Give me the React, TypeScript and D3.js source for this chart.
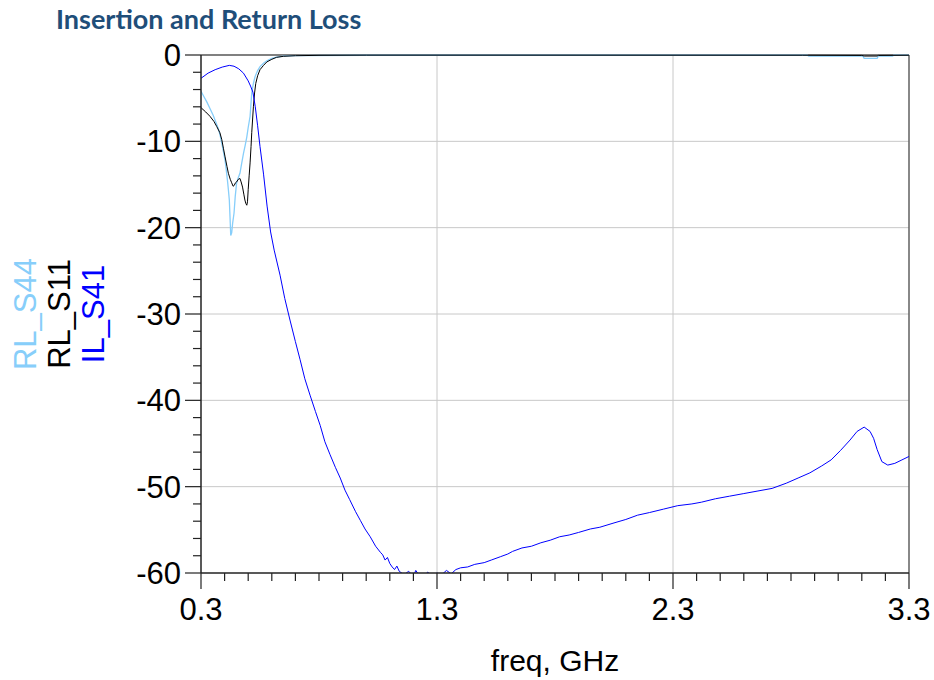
import React from "react";
import * as d3 from "d3";

const TITLE = "Insertion and Return Loss";
const X_LABEL = "freq, GHz";
const X_TICKS = [0.3, 1.3, 2.3, 3.3];
const Y_TICKS = [0, -10, -20, -30, -40, -50, -60];

const IL_S41: [number, number][] = [
  [0.3, -2.7], [0.33, -2.1], [0.36, -1.7], [0.39, -1.4], [0.42, -1.2], [0.44, -1.3],
  [0.46, -1.6], [0.48, -2.1], [0.5, -3.0], [0.51, -3.6], [0.52, -4.3], [0.53, -6.0],
  [0.54, -8.2], [0.55, -10.6], [0.565, -13.8], [0.58, -17.5], [0.595, -20.5],
  [0.61, -22.6], [0.635, -25.5], [0.655, -28.2], [0.677, -30.7], [0.7, -33.2],
  [0.72, -35.3], [0.74, -37.5], [0.762, -39.4], [0.785, -41.3], [0.805, -42.9],
  [0.825, -44.8], [0.847, -46.3], [0.87, -47.8], [0.89, -49.0], [0.91, -50.4],
  [0.93, -51.5], [0.955, -52.9], [0.975, -53.9], [0.995, -54.9], [1.017, -55.8],
  [1.04, -56.9], [1.06, -57.6], [1.07, -57.9], [1.08, -58.5], [1.09, -58.2], [1.1, -58.9],
  [1.11, -59.3], [1.12, -59.6], [1.13, -59.2], [1.14, -59.8], [1.16, -60.2], [1.18, -59.8],
  [1.2, -60.4], [1.21, -59.7], [1.22, -60.1], [1.24, -60.6], [1.26, -59.9], [1.28, -60.3],
  [1.3, -60.0], [1.32, -60.2], [1.34, -59.7], [1.36, -60.1], [1.38, -59.6],
  [1.4, -59.4], [1.43, -59.3], [1.46, -59.0], [1.5, -58.8], [1.53, -58.5],
  [1.57, -58.1], [1.6, -57.8], [1.62, -57.5], [1.66, -57.1], [1.7, -56.9],
  [1.74, -56.5], [1.78, -56.2], [1.82, -55.8], [1.86, -55.6], [1.9, -55.3],
  [1.95, -54.9], [1.99, -54.7], [2.05, -54.2], [2.1, -53.8], [2.15, -53.3],
  [2.2, -53.0], [2.26, -52.6], [2.32, -52.2], [2.38, -52.0], [2.42, -51.8],
  [2.48, -51.4], [2.54, -51.1], [2.6, -50.8], [2.66, -50.5], [2.72, -50.2],
  [2.78, -49.6], [2.83, -49.0], [2.88, -48.4], [2.93, -47.6], [2.97, -46.9],
  [3.01, -45.8], [3.05, -44.6], [3.08, -43.6], [3.11, -43.1], [3.135, -43.6],
  [3.15, -44.4], [3.165, -45.7], [3.185, -47.1], [3.21, -47.5], [3.24, -47.3],
  [3.27, -46.9], [3.3, -46.5],
];

const RL_S11: [number, number][] = [
  [0.3, -6.1], [0.32, -6.6], [0.338, -7.1], [0.355, -7.7], [0.367, -8.3], [0.38, -9.0],
  [0.388, -9.8], [0.395, -10.8], [0.402, -11.8], [0.41, -12.9], [0.416, -13.7],
  [0.424, -14.4], [0.43, -14.8], [0.436, -15.2], [0.441, -15.1], [0.446, -14.8],
  [0.451, -14.7], [0.458, -14.4], [0.465, -14.3], [0.47, -14.7], [0.476, -15.3],
  [0.482, -16.2], [0.486, -16.8], [0.49, -17.2], [0.494, -17.4], [0.497, -17.0],
  [0.5, -15.6], [0.504, -14.0], [0.508, -12.5], [0.512, -10.6], [0.515, -9.0],
  [0.522, -6.0], [0.527, -4.4], [0.532, -3.3], [0.54, -2.4], [0.55, -1.7],
  [0.565, -1.2], [0.579, -0.8], [0.6, -0.5], [0.62, -0.27], [0.65, -0.15],
  [0.7, -0.08], [0.8, -0.04], [1.0, -0.02], [2.85, -0.03], [3.1, -0.05],
  [3.11, -0.12], [3.165, -0.12], [3.17, -0.05], [3.3, -0.03],
];

const RL_S44: [number, number][] = [
  [0.3, -4.2], [0.312, -4.8], [0.324, -5.4], [0.338, -6.2], [0.352, -7.0],
  [0.363, -7.8], [0.373, -8.5], [0.381, -9.3], [0.388, -10.2], [0.395, -11.2],
  [0.402, -12.2], [0.407, -13.3], [0.412, -14.5], [0.416, -15.6], [0.42, -16.8],
  [0.423, -18.8], [0.426, -20.9], [0.43, -20.6], [0.434, -19.5], [0.44, -18.3],
  [0.445, -16.4], [0.451, -14.8], [0.458, -14.2], [0.465, -13.7], [0.472, -12.6],
  [0.48, -11.4], [0.487, -10.5], [0.494, -9.5], [0.5, -8.4], [0.508, -7.1],
  [0.515, -4.4], [0.522, -3.3], [0.529, -2.5], [0.54, -1.8], [0.55, -1.35],
  [0.565, -0.95], [0.579, -0.66], [0.6, -0.4], [0.62, -0.25], [0.65, -0.14],
  [0.7, -0.07], [1.0, -0.03], [2.87, -0.03], [2.875, -0.14], [3.105, -0.14],
  [3.11, -0.38], [3.165, -0.38], [3.17, -0.14], [3.23, -0.14], [3.235, -0.02],
  [3.3, -0.02],
];

const SERIES = [
  { name: "RL_S44", data: RL_S44, color: "#87CEFA", width: 1.3 },
  { name: "RL_S11", data: RL_S11, color: "#000000", width: 1 },
  { name: "IL_S41", data: IL_S41, color: "#0000FF", width: 1 },
];

const LEGEND = [
  { name: "RL_S44", color: "#87CEFA" },
  { name: "RL_S11", color: "#000000" },
  { name: "IL_S41", color: "#0000FF" },
];

export default function App() {
  const W = 934, H = 680;
  const left = 201, right = 909, top = 55, bottom = 573;
  const x = d3.scaleLinear().domain([0.3, 3.3]).range([left, right]);
  const y = d3.scaleLinear().domain([0, -60]).range([top, bottom]);
  const line = d3.line<[number, number]>().x((d) => x(d[0])).y((d) => y(d[1]));

  const xMinor = d3.range(0, 31).map((i) => 0.3 + i * 0.1);
  const yMinor = d3.range(0, 31).map((i) => -i * 2);
  const font = "'Liberation Sans', Arial, sans-serif";
  const fs = 31;

  return (
    <svg width={W} height={H} style={{ position: "absolute", left: 0, top: 0, background: "#fff" }}>
      <defs>
        <clipPath id="plotclip">
          <rect x={left} y={top - 2} width={right - left} height={bottom - top + 2} />
        </clipPath>
      </defs>
      <text x={56} y={29} fontFamily="Lato, 'Open Sans', sans-serif" fontWeight={700} fontSize={27} fill="#1F4E79">
        {TITLE}
      </text>
      {X_TICKS.slice(1, -1).map((t) => (
        <line key={"gx" + t} x1={x(t)} x2={x(t)} y1={top} y2={bottom} stroke="#c8c8c8" strokeWidth={1} />
      ))}
      {Y_TICKS.slice(1, -1).map((t) => (
        <line key={"gy" + t} x1={left} x2={right} y1={y(t)} y2={y(t)} stroke="#c8c8c8" strokeWidth={1} />
      ))}
      <line x1={left} x2={right} y1={top} y2={top} stroke="#808080" strokeWidth={2} />
      <line x1={right} x2={right} y1={top} y2={bottom} stroke="#606060" strokeWidth={1.5} />
      <g clipPath="url(#plotclip)">
        {SERIES.map((s) => (
          <path key={s.name} d={line(s.data) || ""} fill="none" stroke={s.color} strokeWidth={s.width} />
        ))}
      </g>
      <line x1={left} x2={left} y1={top} y2={bottom} stroke="#222" strokeWidth={1.5} />
      <line x1={left} x2={right} y1={bottom} y2={bottom} stroke="#222" strokeWidth={1.5} />
      {yMinor.map((t) => {
        const major = t % 10 === 0;
        return (
          <line key={"ty" + t} x1={left - (major ? 16 : 8)} x2={left} y1={y(t)} y2={y(t)} stroke="#222" strokeWidth={1.2} />
        );
      })}
      {xMinor.map((t, i) => {
        const major = i % 10 === 0;
        return (
          <line key={"tx" + i} x1={x(t)} x2={x(t)} y1={bottom} y2={bottom + (major ? 16 : 8)} stroke="#222" strokeWidth={1.2} />
        );
      })}
      {Y_TICKS.map((t) => (
        <text key={"ly" + t} x={181} y={y(t)} dy="0.36em" textAnchor="end" fontFamily={font} fontSize={fs} fill="#000">
          {t}
        </text>
      ))}
      {X_TICKS.map((t) => (
        <text key={"lx" + t} x={x(t)} y={620} textAnchor="middle" fontFamily={font} fontSize={fs} fill="#000">
          {t.toFixed(1)}
        </text>
      ))}
      <text x={(left + right) / 2} y={671} textAnchor="middle" fontFamily={font} fontSize={30} fill="#000">
        {X_LABEL}
      </text>
      {LEGEND.map((l, i) => (
        <text
          key={l.name}
          transform={`translate(${36 + i * 34},${(top + bottom) / 2}) rotate(-90)`}
          textAnchor="middle"
          fontFamily={font}
          fontSize={fs}
          fill={l.color}
        >
          {l.name}
        </text>
      ))}
    </svg>
  );
}
